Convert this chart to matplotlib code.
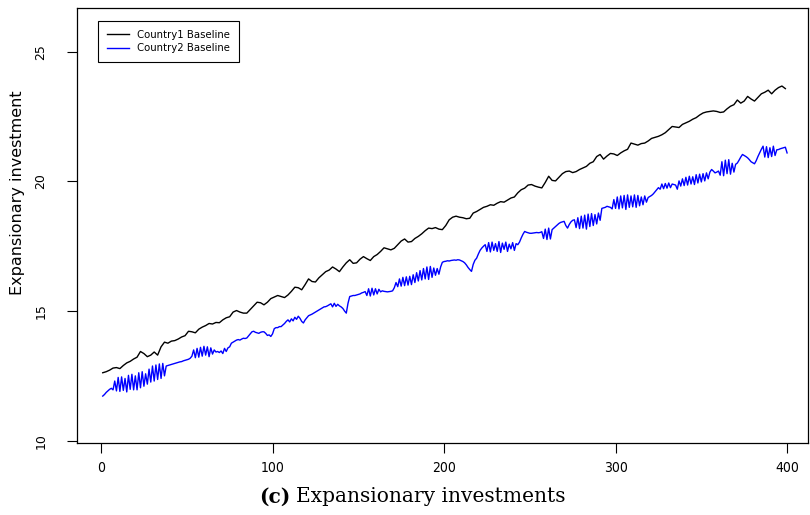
import numpy as np
import matplotlib
matplotlib.use('Agg')
import matplotlib.pyplot as plt

# Data
labels = ['Country1 Baseline', 'Country2 Baseline']
x_ticks = [0, 100, 200, 300, 400]
y_ticks = [10, 15, 20, 25]

# Country1: every second period (1, 3, 5, ..., 399)
country1_x = np.arange(1, 401, 2)
country1 = [
    12.62, 12.66, 12.72, 12.80, 12.82, 12.78, 12.90, 13.00, 13.06, 13.15,
    13.22, 13.44, 13.36, 13.24, 13.30, 13.42, 13.30, 13.62, 13.80, 13.76,
    13.84, 13.86, 13.92, 14.00, 14.05, 14.22, 14.20, 14.16, 14.30, 14.38,
    14.44, 14.52, 14.50, 14.56, 14.55, 14.66, 14.74, 14.78, 14.96, 15.02,
    14.96, 14.92, 14.92, 15.06, 15.20, 15.34, 15.32, 15.24, 15.34, 15.48,
    15.54, 15.60, 15.56, 15.52, 15.62, 15.76, 15.92, 15.90, 15.82, 16.02,
    16.24, 16.14, 16.12, 16.28, 16.40, 16.52, 16.58, 16.70, 16.62, 16.52,
    16.70, 16.86, 16.98, 16.84, 16.86, 17.00, 17.10, 17.02, 16.95, 17.10,
    17.18, 17.30, 17.44, 17.40, 17.36, 17.42, 17.56, 17.70, 17.78, 17.66,
    17.68, 17.80, 17.88, 17.98, 18.10, 18.20, 18.18, 18.22, 18.16, 18.14,
    18.30, 18.52, 18.62, 18.66, 18.62, 18.60, 18.56, 18.58, 18.78, 18.84,
    18.92, 19.00, 19.04, 19.10, 19.08, 19.16, 19.22, 19.20, 19.28, 19.36,
    19.40, 19.56, 19.68, 19.74, 19.86, 19.88, 19.82, 19.78, 19.75, 19.96,
    20.20, 20.04, 20.02, 20.16, 20.30, 20.38, 20.40, 20.34, 20.38, 20.46,
    20.52, 20.58, 20.70, 20.76, 20.96, 21.04, 20.86, 20.98, 21.08, 21.06,
    21.00, 21.10, 21.18, 21.24, 21.48, 21.44, 21.40, 21.46, 21.48, 21.56,
    21.66, 21.70, 21.74, 21.80, 21.88, 22.00, 22.12, 22.10, 22.08, 22.20,
    22.26, 22.32, 22.40, 22.46, 22.56, 22.64, 22.68, 22.70, 22.72, 22.70,
    22.66, 22.68, 22.80, 22.90, 22.96, 23.14, 23.02, 23.10, 23.28, 23.18,
    23.10, 23.24, 23.38, 23.44, 23.52, 23.38, 23.52, 23.62, 23.68, 23.58,
]

# Country2: every period (1 ... 400)
country2_x = np.arange(1, 401)
country2 = [
    11.72, 11.78, 11.86, 11.92, 11.98, 12.02, 11.96, 12.30, 11.92, 12.44,
    11.90, 12.46, 11.94, 12.40, 11.88, 12.52, 11.98, 12.56, 11.96, 12.50,
    11.96, 12.62, 12.04, 12.66, 12.10, 12.58, 12.18, 12.76, 12.26, 12.88,
    12.30, 12.92, 12.36, 12.96, 12.40, 12.98, 12.50, 12.88, 12.90, 12.92,
    12.94, 12.96, 12.98, 13.00, 13.02, 13.04, 13.05, 13.08, 13.10, 13.12,
    13.14, 13.18, 13.26, 13.50, 13.20, 13.56, 13.22, 13.60, 13.26, 13.64,
    13.30, 13.62, 13.24, 13.58, 13.34, 13.50, 13.42, 13.44, 13.40, 13.46,
    13.36, 13.56, 13.44, 13.58, 13.62, 13.76, 13.80, 13.84, 13.88, 13.90,
    13.88, 13.92, 13.95, 13.94, 13.96, 14.04, 14.12, 14.20, 14.22, 14.18,
    14.16, 14.14, 14.18, 14.20, 14.20, 14.14, 14.06, 14.08, 14.02, 14.12,
    14.32, 14.36, 14.36, 14.40, 14.40, 14.46, 14.52, 14.60, 14.66, 14.58,
    14.70, 14.62, 14.76, 14.68, 14.80, 14.72, 14.60, 14.54, 14.66, 14.74,
    14.82, 14.85, 14.88, 14.92, 14.96, 15.00, 15.04, 15.08, 15.12, 15.16,
    15.17, 15.20, 15.24, 15.28, 15.16, 15.30, 15.18, 15.26, 15.20, 15.16,
    15.10, 15.00, 14.92, 15.30, 15.56, 15.58, 15.60, 15.60, 15.62, 15.64,
    15.66, 15.70, 15.72, 15.75, 15.60, 15.86, 15.58, 15.88, 15.62, 15.86,
    15.66, 15.84, 15.74, 15.78, 15.76, 15.75, 15.74, 15.75, 15.76, 15.78,
    15.90, 16.10, 15.94, 16.24, 15.96, 16.30, 15.98, 16.32, 16.00, 16.34,
    16.02, 16.40, 16.10, 16.48, 16.16, 16.56, 16.20, 16.64, 16.24, 16.70,
    16.22, 16.72, 16.30, 16.66, 16.38, 16.64, 16.42, 16.70, 16.88, 16.91,
    16.92, 16.94, 16.93, 16.95, 16.96, 16.97, 16.96, 16.98, 16.97, 16.94,
    16.91, 16.86, 16.78, 16.68, 16.60, 16.53, 16.80, 16.96, 17.04, 17.20,
    17.34, 17.43, 17.50, 17.56, 17.30, 17.64, 17.28, 17.66, 17.34, 17.60,
    17.30, 17.68, 17.26, 17.62, 17.38, 17.66, 17.30, 17.58, 17.40, 17.64,
    17.34, 17.60, 17.56, 17.66, 17.82, 17.96, 18.07, 18.04, 18.02, 18.00,
    18.00, 18.01, 18.02, 18.03, 18.02, 18.03, 18.06, 17.80, 18.16, 17.76,
    18.20, 17.78, 18.14, 18.20, 18.26, 18.32, 18.38, 18.42, 18.44, 18.46,
    18.30, 18.20, 18.34, 18.44, 18.50, 18.52, 18.22, 18.60, 18.18, 18.66,
    18.20, 18.70, 18.16, 18.74, 18.26, 18.76, 18.30, 18.72, 18.36, 18.78,
    18.50, 18.96, 18.98, 19.00, 19.04, 19.02, 19.00, 18.94, 19.30, 18.96,
    19.40, 18.94, 19.44, 18.98, 19.46, 18.92, 19.48, 19.00, 19.44, 19.02,
    19.48, 19.00, 19.46, 19.06, 19.40, 19.10, 19.44, 19.20, 19.38, 19.42,
    19.46, 19.52, 19.60, 19.68, 19.76, 19.70, 19.90, 19.72, 19.92, 19.74,
    19.94, 19.76, 19.90, 19.88, 19.86, 19.70, 20.02, 19.82, 20.10, 19.84,
    20.16, 19.86, 20.20, 19.90, 20.18, 19.88, 20.26, 19.94, 20.28, 19.98,
    20.30, 20.02, 20.33, 20.10, 20.36, 20.46, 20.40, 20.33, 20.36, 20.40,
    20.24, 20.76, 20.22, 20.82, 20.30, 20.84, 20.28, 20.70, 20.36, 20.66,
    20.71, 20.82, 20.94, 21.04, 21.00, 20.96, 20.91, 20.84, 20.76, 20.72,
    20.68, 20.80, 20.96, 21.10, 21.24, 21.36, 20.94, 21.34, 20.92, 21.30,
    20.96, 21.36, 21.00, 21.22, 21.23, 21.26, 21.28, 21.30, 21.32, 21.10,
]

W, H = 810, 515
fig = plt.figure(figsize=(W / 100, H / 100), dpi=100)
ax = fig.add_axes([76.5 / W, 1 - 443 / H, (808 - 76.5) / W, (443 - 8) / H])

ax.plot(country1_x, country1, color='black', lw=1.0, label=labels[0])
ax.plot(country2_x, country2, color='#0000ff', lw=1.0, label=labels[1])

ax.set_xlim(-14.3, 412.2)
ax.set_ylim(9.91, 26.69)
ax.set_xticks(x_ticks)
ax.set_yticks(y_ticks)
ax.set_xticklabels([str(t) for t in x_ticks], fontsize=10, family='DejaVu Sans', stretch='condensed')
ax.set_yticklabels([str(t) for t in y_ticks], fontsize=9, rotation=90, va='center')
ax.tick_params(axis='both', direction='out', length=7, width=0.8, color='black')
ax.tick_params(axis='x', pad=6)
ax.tick_params(axis='y', pad=14)
for s in ax.spines.values():
    s.set_linewidth(0.9)
    s.set_color('black')

fig.text(18 / W, 1 - 193 / H, 'Expansionary investment', rotation=90,
         ha='center', va='center', fontsize=11.5)

leg = ax.legend(loc='upper left', bbox_to_anchor=(98 / W, 1 - 21 / H),
                bbox_transform=fig.transFigure, borderaxespad=0, fontsize=7.3,
                fancybox=False, framealpha=1, edgecolor='black',
                handlelength=2.2, handletextpad=0.8, labelspacing=0.35, borderpad=0.85)
leg.get_frame().set_linewidth(0.8)

# caption under the plot
fig.text(290 / W, 1 - 497 / H, '(c)', ha='right', va='center', fontsize=14.5,
         family='DejaVu Serif', fontweight='bold')
fig.text(296 / W, 1 - 497 / H, 'Expansionary investments', ha='left', va='center',
         fontsize=14.5, family='DejaVu Serif')

fig.savefig('out.png', dpi=100)
